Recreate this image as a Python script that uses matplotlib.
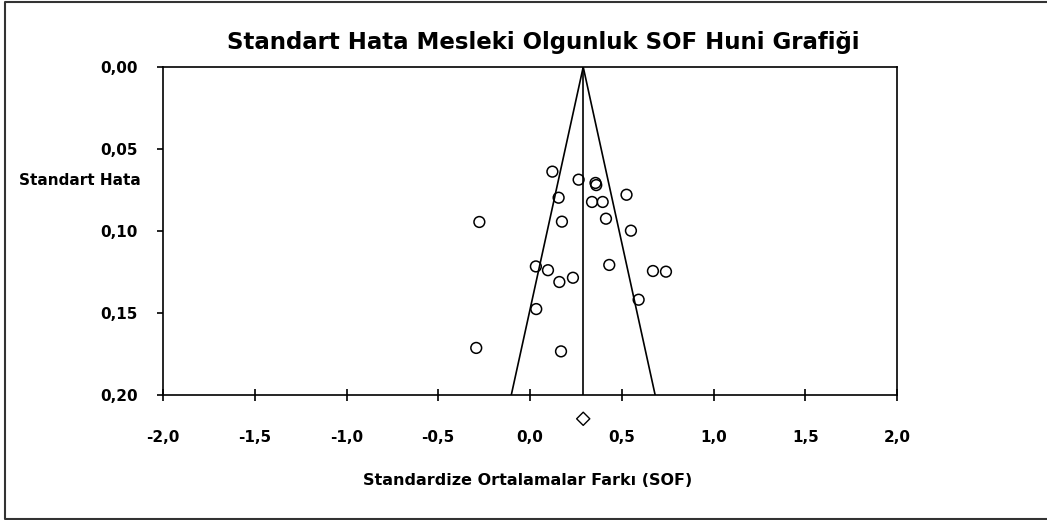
import matplotlib
matplotlib.use("Agg")
import matplotlib.pyplot as plt
from matplotlib.ticker import FuncFormatter
from matplotlib.lines import Line2D

# study effects (SOF) and standard errors
sof = [0.122, 0.265, 0.357, 0.361, 0.526, 0.156, 0.338, 0.396, -0.276, 0.174,
       0.414, 0.550, 0.032, 0.098, 0.432, 0.670, 0.741, 0.234, 0.160, 0.592,
       0.034, -0.293, 0.169]
se = [0.0638, 0.0687, 0.0707, 0.0720, 0.0779, 0.0797, 0.0823, 0.0823, 0.0945, 0.0943,
      0.0925, 0.0998, 0.1216, 0.1239, 0.1207, 0.1244, 0.1248, 0.1285, 0.1311, 0.1419,
      0.1476, 0.1713, 0.1734]

pooled = 0.29      # overall effect
pooled_se = 0.2145 # diamond position below the axis
se_max = 0.20
z = 1.96

xticks = [-2.0, -1.5, -1.0, -0.5, 0.0, 0.5, 1.0, 1.5, 2.0]
yticks = [0.00, 0.05, 0.10, 0.15, 0.20]

fig = plt.figure(figsize=(10.47, 5.2), dpi=100)
ax = fig.add_axes([163 / 1047, 1 - 395 / 520, 734 / 1047, 328 / 520])

# funnel
ax.plot([pooled - z * se_max, pooled, pooled + z * se_max], [se_max, 0, se_max],
        color="black", lw=1.2)
ax.plot([pooled, pooled], [0, se_max], color="black", lw=1.2)

ax.scatter(sof, se, s=60, facecolors="none", edgecolors="black", linewidths=1.1, zorder=3)
ax.scatter([pooled], [pooled_se], marker="D", s=45, facecolors="none",
           edgecolors="black", linewidths=1.0, clip_on=False, zorder=3)

ax.set_xlim(-2, 2)
ax.set_ylim(0.2, 0)
ax.set_xticks(xticks)
ax.set_yticks(yticks)
comma = FuncFormatter(lambda v, p: f"{v:.1f}".replace(".", ","))
comma2 = FuncFormatter(lambda v, p: f"{v:.2f}".replace(".", ","))
ax.xaxis.set_major_formatter(comma)
ax.yaxis.set_major_formatter(comma2)
ax.tick_params(axis="x", direction="inout", length=8, width=1.2, pad=21, labelsize=11)
ax.tick_params(axis="y", direction="out", length=4, width=1.2, pad=14, labelsize=11)
for lab in ax.get_xticklabels() + ax.get_yticklabels():
    lab.set_fontweight("bold")
for s in ax.spines.values():
    s.set_linewidth(1.2)

ax.set_ylabel("Standart Hata", rotation=0, ha="right", va="center",
              fontsize=11, fontweight="bold")
ax.yaxis.set_label_coords(-0.030, 0.653)
ax.set_xlabel("Standardize Ortalamalar Farkı (SOF)", fontsize=11.5, fontweight="bold")
ax.xaxis.set_label_coords(0.497, -0.238)

fig.text(543 / 1047, 1 - 42 / 520, "Standart Hata Mesleki Olgunluk SOF Huni Grafiği",
         ha="center", va="center", fontsize=16.5, fontweight="bold")

# frame: left, top and bottom edges only
x0, y0, y1 = 5 / 1047, 1 / 520, 1 - 1.5 / 520
fig.lines.append(Line2D([1, x0, x0, 1], [y1, y1, y0, y0], transform=fig.transFigure,
                        color="#333333", lw=1.5))

fig.savefig("out.png", dpi=100)
